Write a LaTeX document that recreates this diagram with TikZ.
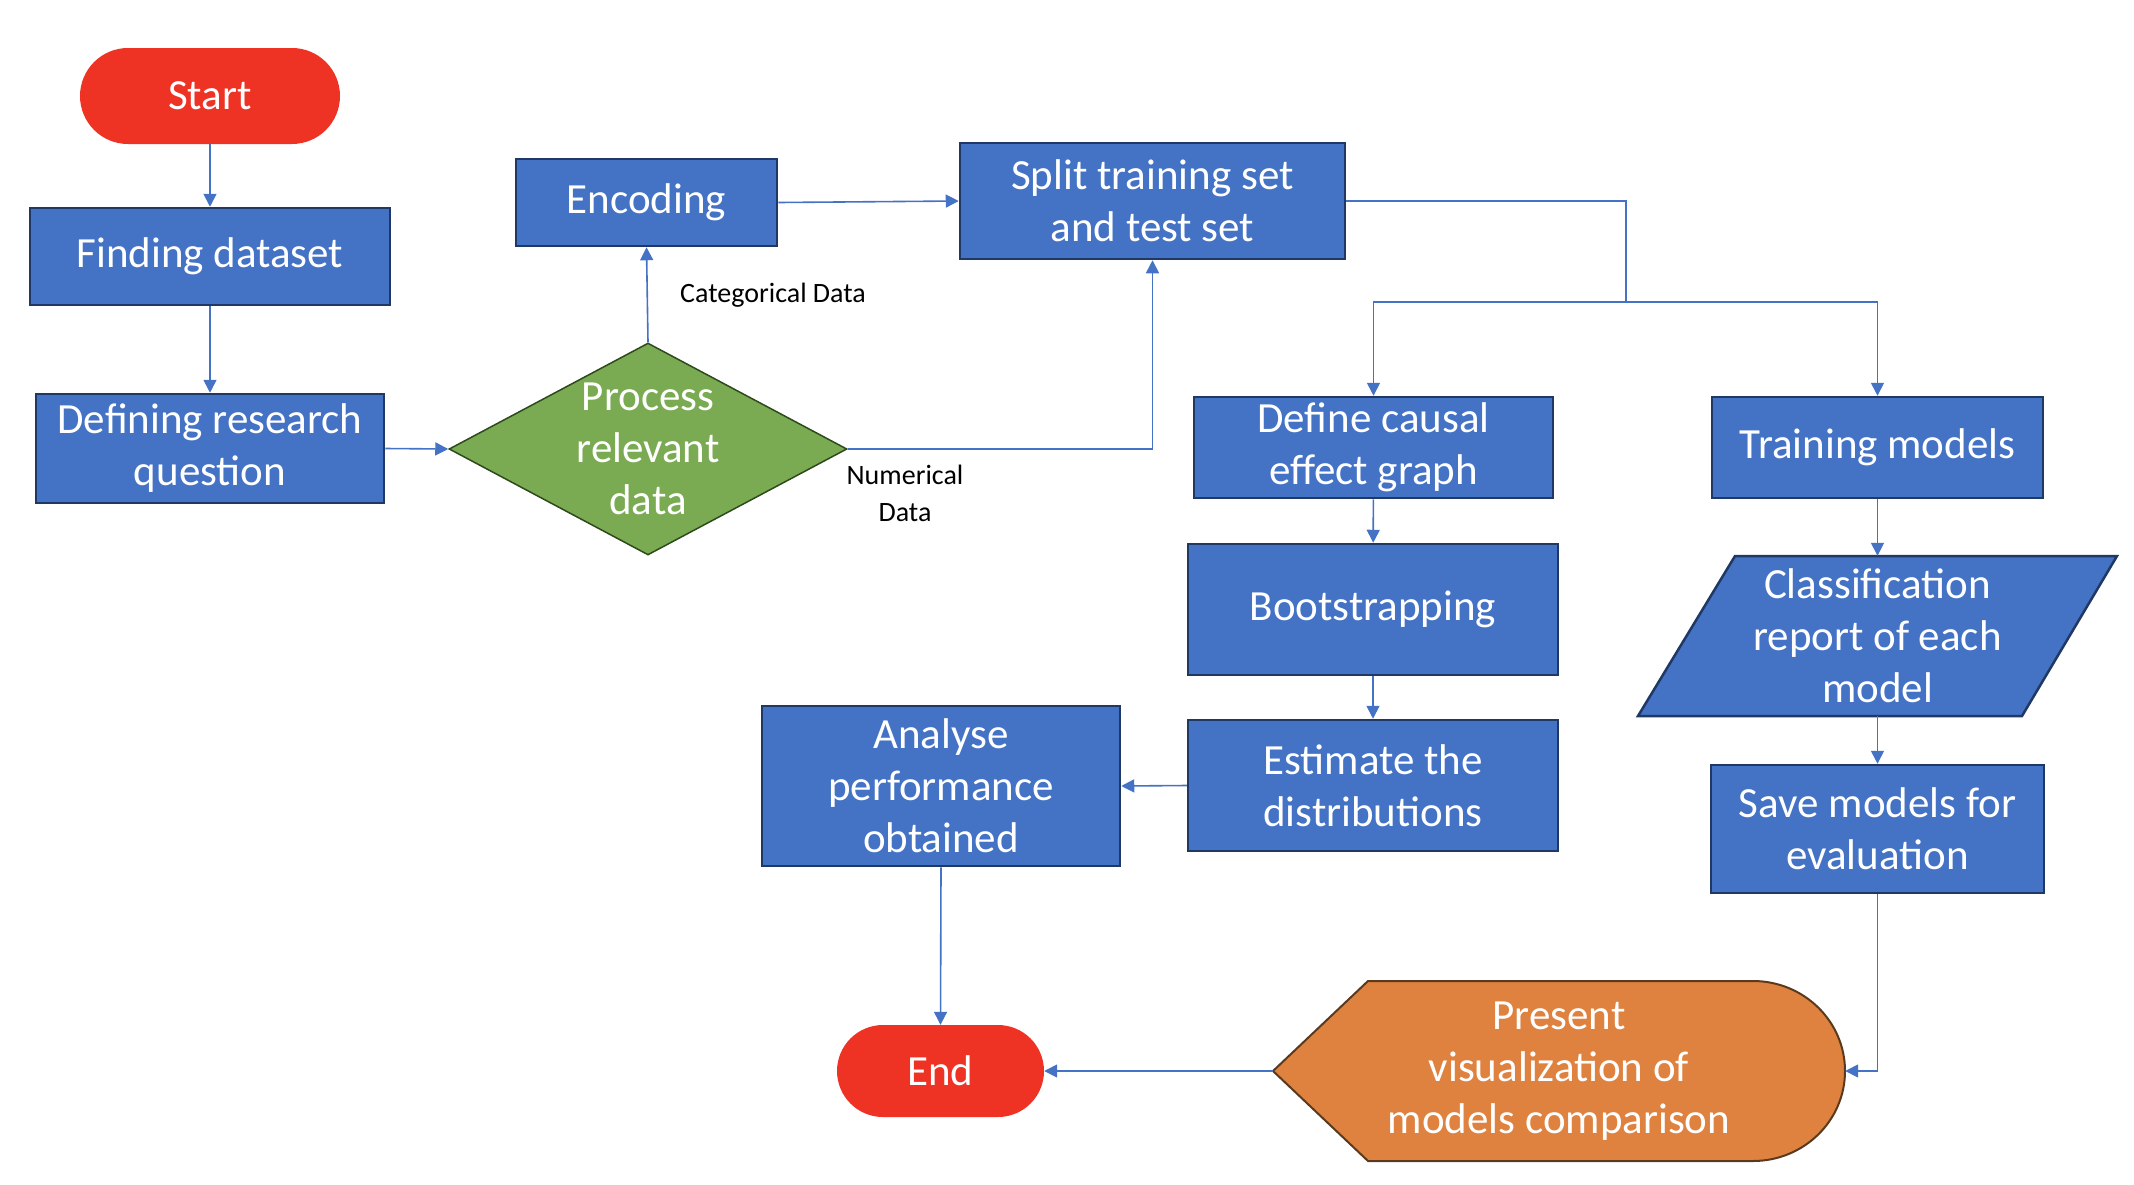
\documentclass[tikz,border=0pt]{standalone}
\usepackage{fontspec}
\setmainfont{Carlito}
\usetikzlibrary{arrows.meta,shapes.geometric}
\definecolor{boxblue}{HTML}{4472C4}
\definecolor{boxedge}{HTML}{203864}
\definecolor{linkblue}{HTML}{4472C4}
\definecolor{startred}{HTML}{EE3325}
\definecolor{diagreen}{HTML}{7AAB53}
\definecolor{diaedge}{HTML}{2E4A1C}
\definecolor{presorange}{HTML}{E0823F}
\definecolor{presedge}{HTML}{5A3A1E}
\tikzset{
  bigtext/.style={font=\fontsize{43}{52}\selectfont},
  proc/.style={rectangle, draw=boxedge, line width=2.5pt, fill=boxblue, text=white,
    bigtext, align=center, inner sep=0pt},
  term/.style={rectangle, rounded corners=46pt, fill=startred, text=white,
    bigtext, inner sep=0pt},
  link/.style={draw=linkblue, line width=1.6pt, -{Triangle[length=13pt,width=13pt]}},
  plain/.style={draw=linkblue, line width=1.6pt},
  lbl/.style={font=\fontsize{28}{37}\selectfont, align=center, inner sep=0pt}
}
\begin{document}
\begin{tikzpicture}[x=1pt,y=-1pt]
\useasboundingbox (0,0) rectangle (2134,1184);

% shapes
\node[term, minimum width=260pt, minimum height=96pt, rounded corners=48pt] (start) at (210,96) {Start};
\node[proc, minimum width=360pt, minimum height=97pt] (find) at (210,256.5) {Finding dataset};
\node[proc, minimum width=348pt, minimum height=109pt] (def) at (210,448.5) {Defining research\\question};
\node[diamond, draw=diaedge, line width=1.5pt, fill=diagreen, minimum width=398pt, minimum height=212pt, inner sep=0pt,
  label={[text=white, bigtext, align=center]center:Process\\relevant\\data}] (dia) at (648,449) {};
\node[proc, minimum width=261pt, minimum height=87pt] (enc) at (646.5,202.5) {Encoding};
\node[proc, minimum width=385pt, minimum height=116pt] (split) at (1152.5,201) {Split training set\\and test set};
\node[proc, minimum width=359pt, minimum height=101pt] (causal) at (1373.5,447.5) {Define causal\\effect graph};
\node[proc, minimum width=370pt, minimum height=131pt] (boot) at (1373,609.5) {Bootstrapping};
\node[proc, minimum width=370pt, minimum height=131pt] (est) at (1373,785.5) {Estimate the\\distributions};
\node[proc, minimum width=358pt, minimum height=160pt] (ana) at (941,786) {Analyse\\performance\\obtained};
\node[term, minimum width=207pt, minimum height=92pt] (end) at (940.5,1071) {End};
\node[proc, minimum width=331pt, minimum height=101pt] (train) at (1877.5,447.5) {Training models};

% parallelogram
\path[fill=boxblue, draw=boxedge, line width=2.5pt, line join=miter]
  (1735,556) -- (2117,556) -- (2022,716) -- (1638,716) -- cycle;
\node[rectangle, minimum width=382pt, minimum height=160pt, inner sep=0pt, text=white,
  bigtext, align=center] (cls) at (1877.5,636) {Classification\\report of each\\model};

\node[proc, minimum width=333pt, minimum height=128pt] (save) at (1877.5,829) {Save models for\\evaluation};

% display shape
\path[fill=presorange, draw=presedge, line width=2pt]
  (1273,1071) -- (1368,981) -- (1753,981)
  arc[start angle=-90, end angle=90, x radius=92, y radius=90]
  -- (1368,1161) -- cycle;
\node[rectangle, minimum width=572pt, minimum height=180pt, inner sep=0pt, text=white,
  bigtext, align=center] (pres) at (1559,1071) {Present\\visualization of\\models comparison};

% labels
\node[lbl, anchor=west] (catl) at (680,295) {Categorical Data};
\node[lbl] (numl) at (905,493) {Numerical\\Data};

% connectors
\coordinate (jn) at (1626,302);
\draw[link] (start) -- (find);
\draw[link] (find) -- (def);
\draw[link] (def.east) -- (dia.west);
\draw[link] (dia.north) -- (enc.south);
\draw[link] (enc.east) -- (split.west);
\draw[link] (dia.east) -| (split.south);
\draw[plain] (split.east) -| (jn);
\draw[link] (jn) -| (causal.north);
\draw[link] (jn) -| (train.north);
\draw[link] (causal) -- (boot);
\draw[link] (boot) -- (est);
\draw[link] (est.west) -- (ana.east);
\draw[link] (ana.south) -- (end.north);
\draw[link] (train.south) -- (cls.north);
\draw[link] (cls.south) -- (save.north);
\draw[link] (save.south) |- (pres.east);
\draw[link] (pres.west) -- (end.east);
\end{tikzpicture}
\end{document}
